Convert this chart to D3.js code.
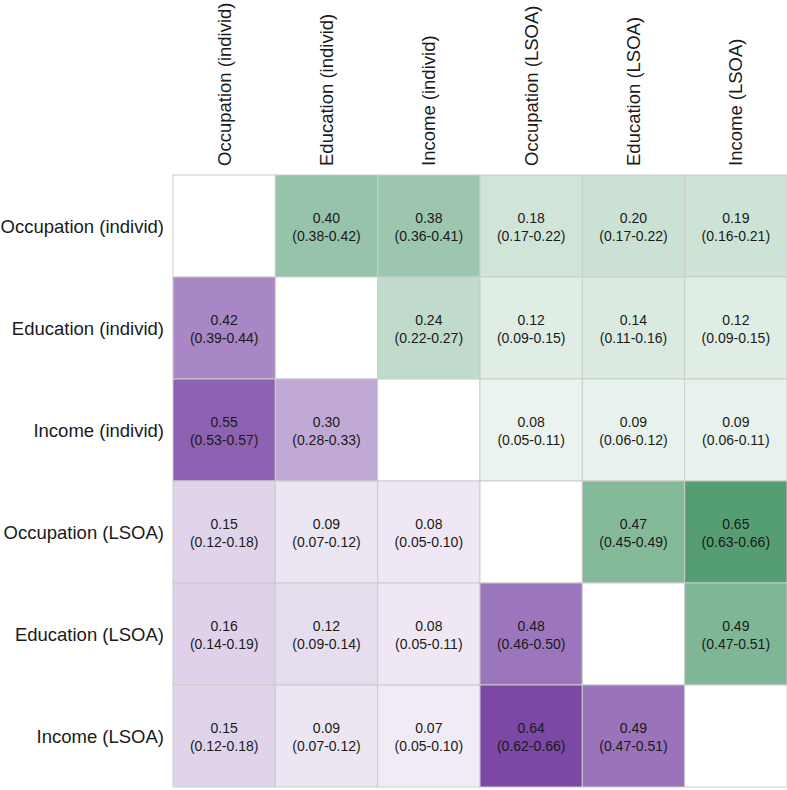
<!DOCTYPE html>
<html>
<head>
<meta charset="utf-8">
<script src="https://cdn.jsdelivr.net/npm/d3@7"></script>
<style>
  body { margin: 0; background: #fff; }
  text { font-family: "Liberation Sans", Arial, sans-serif; fill: #1a1a1a; }
</style>
</head>
<body>
<div id="chart"></div>
<script>
// labels van de variabelen
const labels = [
  "Occupation (individ)", "Education (individ)", "Income (individ)",
  "Occupation (LSOA)", "Education (LSOA)", "Income (LSOA)"
];

// schattingen per cel (rij, kolom), null op de diagonaal
const estimates = [
  [null, 0.40, 0.38, 0.18, 0.20, 0.19],
  [0.42, null, 0.24, 0.12, 0.14, 0.12],
  [0.55, 0.30, null, 0.08, 0.09, 0.09],
  [0.15, 0.09, 0.08, null, 0.47, 0.65],
  [0.16, 0.12, 0.08, 0.48, null, 0.49],
  [0.15, 0.09, 0.07, 0.64, 0.49, null]
];
const lowerCI = [
  [null, 0.38, 0.36, 0.17, 0.17, 0.16],
  [0.39, null, 0.22, 0.09, 0.11, 0.09],
  [0.53, 0.28, null, 0.05, 0.06, 0.06],
  [0.12, 0.07, 0.05, null, 0.45, 0.63],
  [0.14, 0.09, 0.05, 0.46, null, 0.47],
  [0.12, 0.07, 0.05, 0.62, 0.47, null]
];
const upperCI = [
  [null, 0.42, 0.41, 0.22, 0.22, 0.21],
  [0.44, null, 0.27, 0.15, 0.16, 0.15],
  [0.57, 0.33, null, 0.11, 0.12, 0.11],
  [0.18, 0.12, 0.10, null, 0.49, 0.66],
  [0.19, 0.14, 0.11, 0.50, null, 0.51],
  [0.18, 0.12, 0.10, 0.66, 0.51, null]
];

const width = 787, height = 790;
const svg = d3.select("#chart").append("svg")
  .attr("width", width).attr("height", height);

const x = d3.scaleBand().domain(labels).range([173, 787]);
const y = d3.scaleBand().domain(labels).range([175, 787]);

// boven de diagonaal groen, eronder paars
const green = d3.scaleLinear().domain([0, 0.65]).range(["#ffffff", "#559e73"]);
const purple = d3.scaleLinear().domain([0, 0.65]).range(["#ffffff", "#7945a4"]);

const cells = [];
labels.forEach((r, i) => {
  labels.forEach((c, j) => {
    cells.push({ row: r, col: c, i: i, j: j,
      est: estimates[i][j], lo: lowerCI[i][j], hi: upperCI[i][j] });
  });
});

const g = svg.selectAll(".cell").data(cells).enter().append("g")
  .attr("class", "cell")
  .attr("transform", d => "translate(" + x(d.col) + "," + y(d.row) + ")");

g.append("rect")
  .attr("width", x.bandwidth())
  .attr("height", y.bandwidth())
  .attr("fill", d => d.est == null ? "#fff" : (d.j > d.i ? green(d.est) : purple(d.est)))
  .attr("stroke", "#cccccc")
  .attr("stroke-width", 1);

const fmt = d3.format(".2f");
const withVal = g.filter(d => d.est != null);
withVal.append("text")
  .attr("x", x.bandwidth() / 2)
  .attr("y", y.bandwidth() / 2 - 8)
  .attr("text-anchor", "middle")
  .attr("dominant-baseline", "central")
  .style("font-size", "14px")
  .text(d => fmt(d.est));
withVal.append("text")
  .attr("x", x.bandwidth() / 2)
  .attr("y", y.bandwidth() / 2 + 10)
  .attr("text-anchor", "middle")
  .attr("dominant-baseline", "central")
  .style("font-size", "14px")
  .text(d => "(" + fmt(d.lo) + "-" + fmt(d.hi) + ")");

// rij labels
svg.selectAll(".rowlab").data(labels).enter().append("text")
  .attr("class", "rowlab")
  .attr("x", 164)
  .attr("y", d => y(d) + y.bandwidth() / 2)
  .attr("text-anchor", "end")
  .attr("dominant-baseline", "central")
  .style("font-size", "18.5px")
  .text(d => d);

// kolom labels, gedraaid
svg.selectAll(".collab").data(labels).enter().append("text")
  .attr("class", "collab")
  .attr("transform", d => "translate(" + (x(d) + x.bandwidth() / 2) + ",166) rotate(-90)")
  .attr("text-anchor", "start")
  .attr("dominant-baseline", "central")
  .style("font-size", "18.5px")
  .text(d => d);
</script>
</body>
</html>
